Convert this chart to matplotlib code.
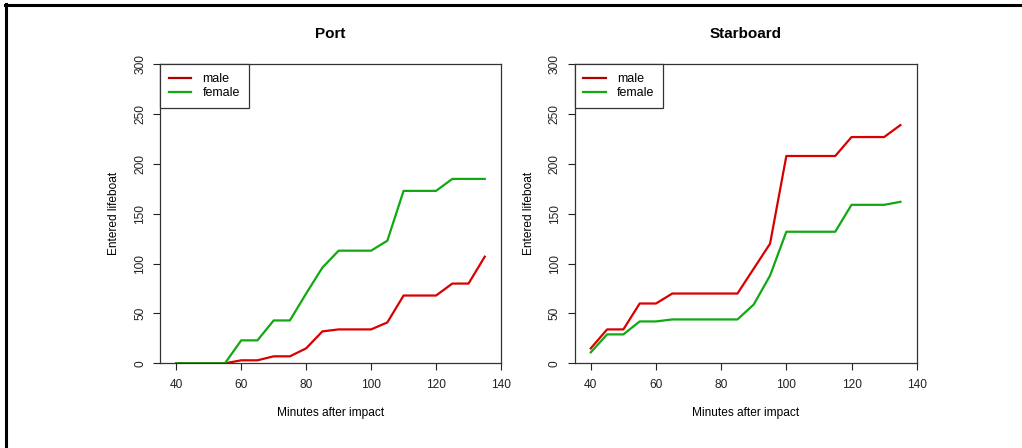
import matplotlib
matplotlib.use("Agg")
import matplotlib.pyplot as plt
from matplotlib.lines import Line2D

plt.rcParams['font.family'] = ['Liberation Sans', 'DejaVu Sans']

minutes = [40, 45, 50, 55, 60, 65, 70, 75, 80, 85, 90, 95, 100, 105, 110, 115, 120, 125, 130, 135]

port_male = [0, 0, 0, 0, 3, 3, 7, 7, 15, 32, 34, 34, 34, 41, 68, 68, 68, 80, 80, 107]
port_female = [0, 0, 0, 0, 23, 23, 43, 43, 70, 96, 113, 113, 113, 123, 173, 173, 173, 185, 185, 185]

star_male = [15, 34, 34, 60, 60, 70, 70, 70, 70, 70, 95, 120, 208, 208, 208, 208, 227, 227, 227, 239]
star_female = [11, 29, 29, 42, 42, 44, 44, 44, 44, 44, 59, 88, 132, 132, 132, 132, 159, 159, 159, 162]

panels = ["Port", "Starboard"]
series_labels = ["male", "female"]
xticks = [40, 60, 80, 100, 120, 140]
yticks = [0, 50, 100, 150, 200, 250, 300]

RED = "#D80000"
GREEN = "#12A812"

fig = plt.figure(figsize=(10.22, 4.48), dpi=100)
fig.patch.set_facecolor("white")

W, H = 1022, 448
axes_px = [(160, 501), (574.5, 916.7)]
top_px, bot_px = 64.3, 363.3

data = [(port_male, port_female), (star_male, star_female)]

for (x0, x1), title, (m, f) in zip(axes_px, panels, data):
    ax = fig.add_axes([x0 / W, (H - bot_px) / H, (x1 - x0) / W, (bot_px - top_px) / H])
    ax.plot(minutes, m, color=RED, lw=1.6, solid_joinstyle='round')
    ax.plot(minutes, f, color=GREEN, lw=1.6, solid_joinstyle='round')
    ax.set_xlim(35, 140)
    ax.set_ylim(0, 300)
    ax.set_xticks(xticks)
    ax.set_yticks(yticks)
    ax.set_yticklabels([str(v) for v in yticks], rotation=90, va='center')
    ax.tick_params(direction='out', length=5, width=0.8, labelsize=8.6, colors='#222222')
    ax.tick_params(axis='x', pad=6)
    ax.tick_params(axis='y', pad=5)
    for s in ax.spines.values():
        s.set_linewidth(0.9)
        s.set_color('#333333')
    ax.set_title(title, fontsize=11, fontweight='bold', pad=19)
    ax.set_xlabel("Minutes after impact", fontsize=8.6, labelpad=12)
    ax.set_ylabel("Entered lifeboat", fontsize=8.6, labelpad=10)
    handles = [Line2D([], [], color="#B00000", lw=1.6), Line2D([], [], color=GREEN, lw=1.6)]
    leg = ax.legend(handles, series_labels, loc='upper left', borderaxespad=0, fancybox=False,
                    edgecolor='#333333', fontsize=9, handlelength=1.8, handletextpad=0.9,
                    borderpad=0.7, labelspacing=0.15, framealpha=1)
    leg.get_frame().set_linewidth(0.9)

# outer border (top and left)
fig.add_artist(Line2D([5 / W, 1.0], [1 - 5 / H, 1 - 5 / H], color='black', lw=2.2, transform=fig.transFigure))
fig.add_artist(Line2D([6 / W, 6 / W], [0, 1 - 4 / H], color='black', lw=2.2, transform=fig.transFigure))

fig.savefig("out.png", dpi=100)
